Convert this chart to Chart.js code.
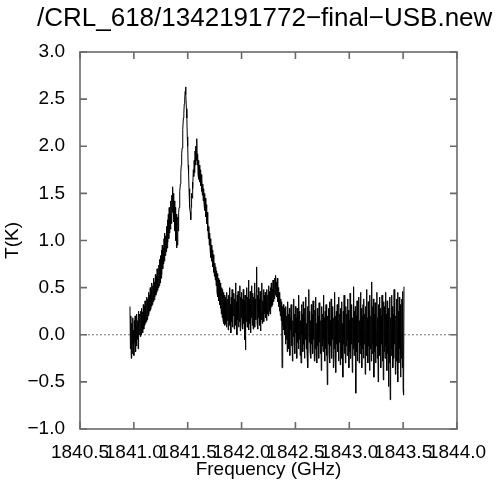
<!DOCTYPE html>
<html>
<head>
<meta charset="utf-8">
<script src="https://cdn.jsdelivr.net/npm/chart.js@4.4.1/dist/chart.umd.min.js"></script>
<style>
html,body{margin:0;padding:0;background:#fff;}
canvas{display:block;}
</style>
</head>
<body>
<canvas id="c" width="500" height="483"></canvas>
<script>
const chartTitle = "/CRL_618/1342191772\u2212final\u2212USB.new";
const xAxisTitle = "Frequency (GHz)";
const yAxisTitle = "T(K)";
const xTickValues = [1840.5, 1841.0, 1841.5, 1842.0, 1842.5, 1843.0, 1843.5, 1844.0];
const yTickValues = [-1.0, -0.5, 0.0, 0.5, 1.0, 1.5, 2.0, 2.5, 3.0];
const freqStart = 1840.964;   // first channel (GHz)
const freqStep = 0.004;       // channel width (GHz)
const tempK = [
  // 1840.96 - 1841.06
  0.30, -0.15, 0.20, -0.25, 0.12, -0.20, 0.18, -0.10, 0.05, -0.22, 0.15, -0.08, 0.20, -0.18, 0.10, -0.12, 0.22, -0.05, 0.15, -0.15, 0.25, 0.00, 0.18,
  // rising wing
  0.22, -0.02, 0.25, 0.00, 0.28, 0.05, 0.24, 0.02, 0.32, 0.06,
  0.30, 0.10, 0.36, 0.12, 0.33, 0.14, 0.40, 0.16, 0.38, 0.20,
  0.45, 0.22, 0.42, 0.25, 0.50, 0.27, 0.47, 0.30, 0.55, 0.32,
  0.52, 0.35, 0.60, 0.37, 0.56, 0.40, 0.64, 0.42, 0.62, 0.45,
  0.70, 0.47, 0.66, 0.50, 0.74, 0.52,
  0.80, 0.55, 0.84, 0.60, 0.90, 0.64, 0.95, 0.70, 0.92, 0.75,
  1.02, 0.78, 1.08, 0.84, 1.05, 0.88, 1.15, 0.92, 1.22, 0.98,
  1.28, 1.02, 1.35, 1.08, 1.30, 1.12, 1.42, 1.18,
  // shoulder peak
  1.48, 1.30, 1.57, 1.35, 1.50,
  1.20, 1.42, 1.10, 1.35, 1.00, 1.28, 0.92, 1.15, 0.95, 1.25, 1.10, 1.30,
  // main peak
  1.35, 1.42, 1.52, 1.60, 1.72, 1.80, 1.92, 1.98, 2.12, 2.18, 2.30, 2.35, 2.45, 2.50, 2.58, 2.63,
  2.55, 2.40, 2.30, 2.10, 2.00, 1.80, 1.72, 1.55, 1.48, 1.35, 1.30, 1.22,
  // second peak
  1.35, 1.50, 1.45, 1.62, 1.55, 1.75, 1.68, 1.85, 1.72, 1.95, 1.80, 2.00, 1.85, 2.08,
  // falling wing
  1.80, 1.92, 1.70, 1.85, 1.65, 1.80, 1.62,
  1.75, 1.58, 1.70, 1.52, 1.65, 1.48, 1.60, 1.42, 1.55, 1.38, 1.50, 1.32,
  1.45, 1.25, 1.38, 1.18, 1.30, 1.10, 1.22, 1.02, 1.15, 0.95, 1.08, 0.90,
  1.02, 0.82, 0.95, 0.78, 0.90, 0.72, 0.85, 0.66, 0.80, 0.62, 0.76,
  0.58, 0.72, 0.52, 0.68, 0.45, 0.65, 0.40, 0.60, 0.36, 0.58, 0.32, 0.55,
  0.28, 0.52, 0.22, 0.50, 0.18, 0.48, 0.15, 0.45, 0.12, 0.42, 0.10,
  // plateau
  0.40, 0.12, 0.35, 0.08, 0.45, 0.15, 0.38, 0.05, 0.42, 0.18,
  0.50, 0.10, 0.32, 0.02, 0.40, 0.14, 0.48, 0.08, 0.36, 0.20,
  0.44, 0.06, 0.38, 0.12, 0.55, 0.10, 0.35, 0.00, 0.42, 0.16,
  0.46, 0.08, 0.34, 0.14, 0.52, 0.04, 0.40, 0.18, 0.45, 0.10,
  0.38, 0.06, 0.48, 0.12, 0.36, -0.05, 0.42, -0.16, 0.35, 0.14,
  0.50, 0.08, 0.40, 0.15, 0.58, 0.05, 0.38, 0.12, 0.46, 0.02,
  0.36, 0.18, 0.52, 0.10, 0.44, 0.06, 0.40, 0.14, 0.55, 0.08,
  0.38, 0.16, 0.45, 0.72, 0.12, 0.42, 0.06, 0.50, 0.18, 0.38,
  0.10, 0.46, 0.04, 0.40, 0.16, 0.55, 0.12, 0.36, 0.20, 0.48,
  0.14, 0.42, 0.22,
  // bump near 1842.33
  0.45, 0.18, 0.40, 0.15, 0.48, 0.22, 0.42, 0.20, 0.52, 0.25,
  0.46, 0.22, 0.50, 0.28, 0.55, 0.30, 0.48, 0.32, 0.58, 0.35,
  0.52, 0.38, 0.60, 0.42, 0.63, 0.45, 0.56, 0.40, 0.60, 0.35,
  0.50, 0.30, 0.45, 0.25, 0.42, 0.20, 0.38, 0.15, 0.35, -0.35,
  0.30, 0.10, 0.32, 0.05, 0.28, 0.00,
  // baseline noise
  0.25, -0.10, 0.30, -0.05, 0.20, -0.18, 0.35, 0.00, 0.22, -0.15,
  0.28, -0.22, 0.18, 0.05, 0.32, -0.12, 0.25, -0.28, 0.15, -0.02,
  0.38, -0.10, 0.22, -0.20, 0.30, 0.02, 0.18, -0.25, 0.28, -0.08,
  0.20, -0.15, 0.42, -0.05, 0.25, -0.22, 0.15, -0.30, 0.32, 0.00,
  0.22, -0.18, 0.35, -0.10, 0.18, -0.25, 0.28, -0.05, 0.40, -0.15,
  0.12, -0.20, 0.30, -0.35, 0.20, 0.48, -0.08, 0.25, -0.18, 0.15,
  -0.25, 0.32, -0.10, 0.22, -0.20, 0.36, -0.05, 0.18, -0.28, 0.26,
  -0.15, 0.40, -0.22, 0.12, -0.30, 0.28, -0.12, 0.20, -0.25, 0.34,
  -0.08, 0.25, -0.20, 0.15, -0.38, 0.30, -0.12, 0.22, -0.18, 0.42,
  -0.05, 0.18, -0.28, 0.25, -0.15, 0.32, -0.22, 0.10, -0.53, 0.20,
  -0.10, 0.28, -0.20, 0.35, -0.30, 0.15, -0.12, 0.38, -0.25, 0.22,
  -0.05, 0.30, -0.35, 0.18, -0.15, 0.45, -0.22, 0.20, -0.40, 0.25,
  -0.10, 0.32, -0.18, 0.15, -0.28, 0.40, -0.08, 0.22, -0.32, 0.28,
  -0.15, 0.35, -0.25, 0.12, -0.45, 0.25, -0.10, 0.42, -0.20, 0.18,
  -0.30, 0.30, -0.12, 0.22, -0.22, 0.38, -0.05, 0.26, -0.35, 0.15,
  -0.18, 0.44, -0.25, 0.20, -0.10, 0.32, -0.40, 0.18, -0.15, 0.51,
  -0.22, 0.25, -0.12, 0.30, -0.62, 0.20, -0.18, 0.36, -0.28, 0.22,
  -0.08, 0.40, -0.30, 0.15, -0.20, 0.45, -0.12, 0.28, -0.35, 0.20,
  -0.15, 0.32, -0.25, 0.38, -0.10, 0.22, -0.42, 0.30, -0.18, 0.48,
  -0.22, 0.18, -0.30, 0.35, -0.12, 0.25, -0.38, 0.42, -0.15, 0.20,
  -0.28, 0.56, -0.20, 0.30, -0.10, 0.38, -0.45, 0.22, -0.18, 0.34,
  -0.30, 0.26, -0.12, 0.45, -0.25, 0.18, -0.50, 0.32, -0.15, 0.40,
  -0.22, 0.28, -0.35, 0.20, -0.10, 0.42, -0.28, 0.25, -0.48, 0.35,
  -0.18, 0.30, -0.25, 0.45, -0.12, 0.22, -0.38, 0.36, -0.20, 0.28,
  -0.55, 0.25, -0.30, 0.40, -0.69, 0.18, -0.22, 0.42, -0.15, 0.30,
  -0.35, 0.22, -0.25, 0.48, -0.10, 0.35, -0.42, 0.20, -0.28, 0.38,
  -0.20, 0.45, -0.50, 0.25, -0.30, 0.40, -0.15, 0.32, -0.45, 0.28,
  -0.25, 0.38, -0.35, 0.46, -0.58, -0.64, 0.51
];

const spectrum = tempK.map((t, i) => ({ x: freqStart + i * freqStep, y: t }));
const zeroLine = [{ x: xTickValues[0], y: 0 }, { x: xTickValues[xTickValues.length - 1], y: 0 }];

const fmt = v => (Math.round(v * 10) / 10).toFixed(1).replace('-', '\u2212');

Chart.defaults.font.family = '"Liberation Sans", Arial, Helvetica, sans-serif';
Chart.defaults.color = '#000';

const frameTicks = {
  id: 'frameTicks',
  afterDatasetsDraw(chart) {
    const { ctx, chartArea: { left, right, top, bottom }, scales: { x, y } } = chart;
    ctx.save();
    ctx.strokeStyle = '#6a6a6a';
    ctx.lineWidth = 1.6;
    ctx.strokeRect(left, top, right - left, bottom - top);
    const L = 7;
    ctx.beginPath();
    x.ticks.forEach(t => {
      const px = x.getPixelForValue(t.value);
      ctx.moveTo(px, bottom); ctx.lineTo(px, bottom - L);
      ctx.moveTo(px, top); ctx.lineTo(px, top + L);
    });
    y.ticks.forEach(t => {
      const py = y.getPixelForValue(t.value);
      ctx.moveTo(left, py); ctx.lineTo(left + L, py);
      ctx.moveTo(right, py); ctx.lineTo(right - L, py);
    });
    ctx.stroke();
    ctx.restore();
  }
};

const titleText = {
  id: 'titleText',
  afterDraw(chart) {
    const ctx = chart.ctx;
    ctx.save();
    ctx.font = '26px "Liberation Sans", Arial, sans-serif';
    ctx.fillStyle = '#000';
    ctx.textBaseline = 'alphabetic';
    ctx.textAlign = 'left';
    ctx.fillText(chartTitle, 37, 26);
    ctx.restore();
  }
};

new Chart(document.getElementById('c'), {
  type: 'line',
  data: {
    datasets: [
      {
        data: spectrum,
        borderColor: '#000',
        borderWidth: 1,
        pointRadius: 0,
        tension: 0,
        fill: false
      },
      {
        data: zeroLine,
        borderColor: '#777',
        borderWidth: 1,
        borderDash: [2, 2],
        pointRadius: 0,
        fill: false
      }
    ]
  },
  options: {
    responsive: false,
    animation: false,
    devicePixelRatio: 1,
    layout: { padding: { left: 0, right: 43, top: 52, bottom: 0 } },
    plugins: { legend: { display: false }, tooltip: { enabled: false }, title: { display: false } },
    scales: {
      x: {
        type: 'linear',
        min: xTickValues[0],
        max: xTickValues[xTickValues.length - 1],
        afterBuildTicks: s => { s.ticks = xTickValues.map(v => ({ value: v })); },
        afterFit: s => { s.height = 54; },
        grid: { display: false },
        border: { display: false },
        ticks: {
          autoSkip: false, maxRotation: 0, minRotation: 0, padding: 4,
          font: { size: 19 }, color: '#000',
          callback: v => fmt(v)
        },
        title: { display: true, text: xAxisTitle, font: { size: 19 }, color: '#000', padding: { top: 0, bottom: 2 } }
      },
      y: {
        type: 'linear',
        min: yTickValues[0],
        max: yTickValues[yTickValues.length - 1],
        afterBuildTicks: s => { s.ticks = yTickValues.map(v => ({ value: v })); },
        afterFit: s => { s.width = 80; },
        grid: { display: false },
        border: { display: false },
        ticks: {
          autoSkip: false, padding: 7,
          font: { size: 19 }, color: '#000',
          callback: v => fmt(v)
        },
        title: { display: true, text: yAxisTitle, font: { size: 19 }, color: '#000', padding: { top: 1, bottom: 0 } }
      }
    }
  },
  plugins: [frameTicks, titleText]
});
</script>
</body>
</html>
